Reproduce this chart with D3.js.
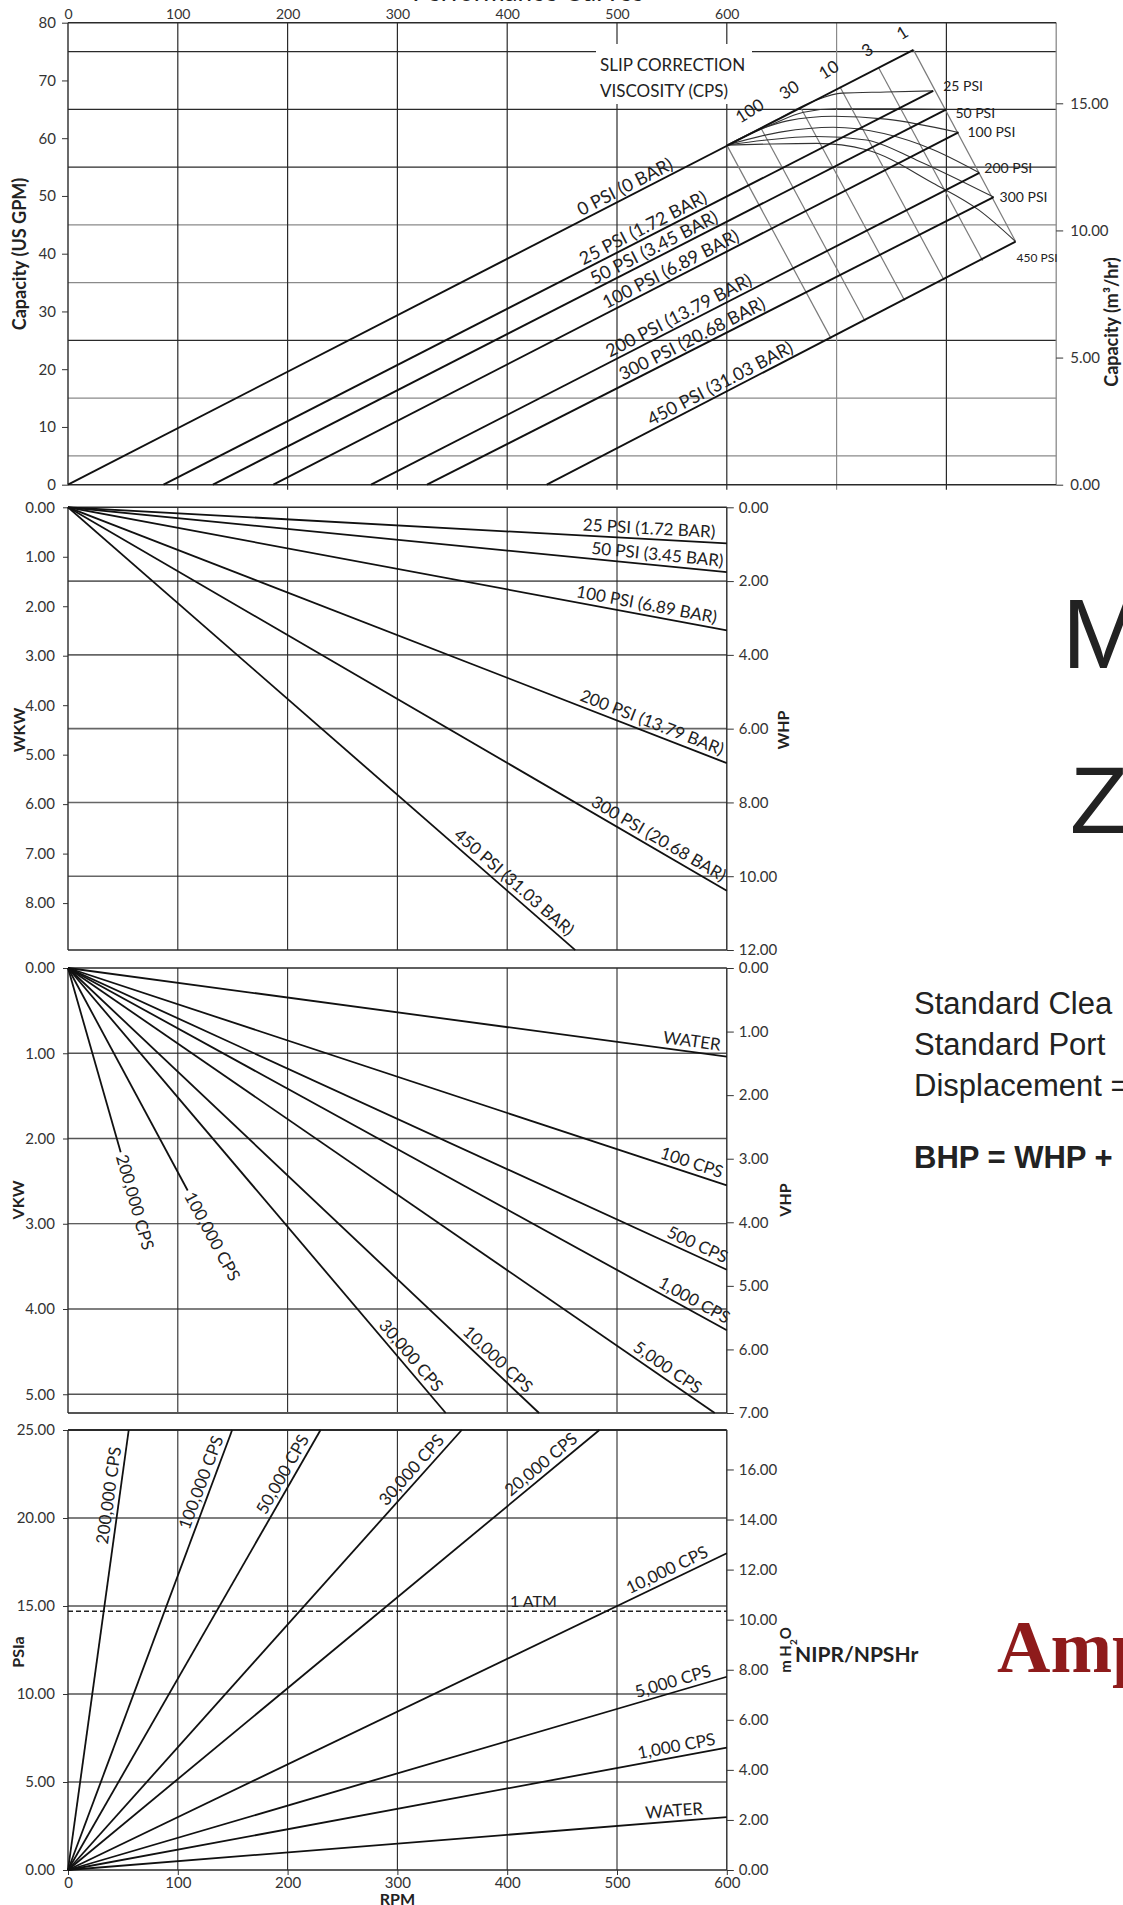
<!DOCTYPE html>
<html>
<head>
<meta charset="utf-8">
<script src="https://cdn.jsdelivr.net/npm/d3@7"></script>
<style>
  body { margin: 0; background: #fff; }
  svg { display: block; }
  text { font-family: Lato, "Open Sans", sans-serif; fill: #222; }
  .tick text { font-size: 15px; fill: #333; }
  .tick line, .domain { stroke: #333; }
</style>
</head>
<body>
<svg id="chart" width="1123" height="1905"></svg>
<script>
// ---- data ----
const rpmTicks = [0, 100, 200, 300, 400, 500, 600];

// capacity panel: pressure lines (RPM at 0 GPM, end point on the slip boundary)
const capNames = ["0 PSI (0 BAR)", "25 PSI (1.72 BAR)", "50 PSI (3.45 BAR)", "100 PSI (6.89 BAR)",
  "200 PSI (13.79 BAR)", "300 PSI (20.68 BAR)", "450 PSI (31.03 BAR)"];
const capStart = [0, 87, 132, 187, 276, 327, 436];
const capEnd = [[770, 75.3], [788, 68.2], [800, 65.0], [811, 61.0], [830, 54.0], [843, 49.8], [863, 42.1]];
const capLabelRpm = [469, 471, 481, 492, 495, 507, 533];
const endNames = ["25 PSI", "50 PSI", "100 PSI", "200 PSI", "300 PSI", "450 PSI"];

// slip correction lines: [rpm, gpm] on 0 PSI line -> [rpm, gpm] on 450 PSI line
const slipLines = [
  [[600, 58.8], [695, 25.3]],
  [[631, 61.8], [726, 28.3]],
  [[667, 65.4], [762, 31.9]],
  [[703, 68.9], [798, 35.4]],
  [[738, 72.3], [833, 38.8]],
  [[770, 75.3], [863, 42.1]]
];
const viscNames = ["100", "30", "10", "3", "1"];

// slip corrected curves, one per pressure
const slipCurves = [
  [[600, 58.8], [645, 63.2], [680, 66.5], [705, 67.8], [745, 68.0], [788, 68.2]],
  [[600, 58.8], [640, 62.3], [670, 64.5], [700, 65.1], [750, 65.1], [800, 65.0]],
  [[600, 58.8], [630, 61.5], [655, 63.0], [697, 63.8], [745, 63.3], [811, 61.0]],
  [[600, 58.8], [650, 61.1], [697, 61.9], [743, 60.8], [788, 58.0], [830, 54.0]],
  [[600, 58.8], [636, 59.7], [682, 60.3], [727, 59.7], [773, 56.2], [843, 49.8]],
  [[600, 58.8], [640, 59.0], [682, 59.1], [727, 58.0], [788, 52.2], [830, 47.5], [863, 42.1]]
];

// WKW panel: lines from origin to [rpm, kW]
const wkwNames = ["25 PSI (1.72 BAR)", "50 PSI (3.45 BAR)", "100 PSI (6.89 BAR)",
  "200 PSI (13.79 BAR)", "300 PSI (20.68 BAR)", "450 PSI (31.03 BAR)"];
const wkwEnd = [[600, 0.73], [600, 1.31], [600, 2.49], [600, 5.17], [600, 7.75], [462, 8.95]];
const wkwLabelRpm = [589, 596, 589, 593, 593, 452];

// VKW panel
const vkwNames = ["WATER", "100 CPS", "500 CPS", "1,000 CPS", "5,000 CPS", "10,000 CPS",
  "30,000 CPS", "100,000 CPS", "200,000 CPS"];
const vkwEnd = [[600, 1.04], [600, 2.55], [600, 3.54], [600, 4.25], [589, 5.22], [429, 5.22],
  [344, 5.22], [109, 2.61], [48, 2.16]];
const vkwLabelRpm = [593, 593, 596, 597, 570, 414, 331, 109, 48];

// NIPR panel
const niprNames = ["WATER", "1,000 CPS", "5,000 CPS", "10,000 CPS", "20,000 CPS",
  "30,000 CPS", "50,000 CPS", "100,000 CPS", "200,000 CPS"];
const niprEnd = [[600, 3.0], [600, 6.95], [600, 10.98], [600, 18.0], [484, 25], [358.6, 25],
  [230, 25], [149.5, 25], [55.3, 25]];
const niprLabelRpm = [579, 591, 588, 586, 468, 347, 224, 146, 53];
const atmPsi = 14.7;

// ---- drawing ----
const svg = d3.select("#chart");
const x = d3.scaleLinear().domain([0, 900]).range([68, 1056.2]);
const x600 = x(600);

const yCap = d3.scaleLinear().domain([0, 80]).range([484.7, 22.7]);
const yM3 = d3.scaleLinear().domain([0, 80 / 4.40287]).range([484.7, 22.7]);
const yWkw = d3.scaleLinear().domain([0, 12 * 0.7457]).range([507.3, 950]);
const yWhp = d3.scaleLinear().domain([0, 12]).range([507.3, 950]);
const yVkw = d3.scaleLinear().domain([0, 7 * 0.7457]).range([968, 1413]);
const yVhp = d3.scaleLinear().domain([0, 7]).range([968, 1413]);
const yPsi = d3.scaleLinear().domain([0, 25]).range([1870, 1430]);
const yMh2o = d3.scaleLinear().domain([0, 25 * 0.70307]).range([1870, 1430]);

const dark = "#2a2a2a", grey = "#8a8a8a";

function hline(g, y, x0, x1, color, w) {
  g.append("line").attr("x1", x0).attr("x2", x1).attr("y1", y).attr("y2", y)
    .attr("stroke", color).attr("stroke-width", w);
}
function vline(g, xv, y0, y1, color, w) {
  g.append("line").attr("x1", xv).attr("x2", xv).attr("y1", y0).attr("y2", y1)
    .attr("stroke", color).attr("stroke-width", w);
}
function seg(g, ys, p0, p1, w, color) {
  g.append("path").datum([p0, p1])
    .attr("d", d3.line().x(d => x(d[0])).y(d => ys(d[1])))
    .attr("fill", "none").attr("stroke", color || "#111").attr("stroke-width", w || 1.8);
}
// label sitting on a straight line, at the point of that line with the given rpm
function lineLabel(g, ys, p0, p1, rpm, txt, anchor, dy, size, dx) {
  const x0 = x(p0[0]), y0 = ys(p0[1]), x1 = x(p1[0]), y1 = ys(p1[1]);
  const a = Math.atan2(y1 - y0, x1 - x0) * 180 / Math.PI;
  const t = (rpm - p0[0]) / (p1[0] - p0[0]);
  const px = x0 + (x1 - x0) * t, py = y0 + (y1 - y0) * t;
  g.append("text").attr("transform", `translate(${px},${py}) rotate(${a})`)
    .attr("text-anchor", anchor).attr("dy", dy).attr("dx", dx || 0)
    .style("font-size", (size || 17) + "px").text(txt);
}
function fmt2(d) { return d3.format(".2f")(d); }
function styleAxis(g) {
  g.select(".domain").remove();
  g.selectAll(".tick line").attr("stroke", "#444");
}
function axisTitle(g, tx, ty, txt, size) {
  return g.append("text").attr("transform", `translate(${tx},${ty}) rotate(-90)`).attr("text-anchor", "middle")
    .style("font-size", (size || 16) + "px").style("font-weight", "bold").text(txt);
}

// ===== panel 1 : capacity =====
const p1 = svg.append("g");
const capGrid = [[75, dark], [65, dark], [55, dark], [45, grey], [35, grey], [25, dark], [15, grey], [5, grey]];
capGrid.forEach(([v, c]) => hline(p1, yCap(v), x(0), x(900), c, 1.3));
[100, 200, 300, 400, 500, 600, 800].forEach(r => vline(p1, x(r), yCap(80), yCap(0) + 5, dark, 1.2));
[700].forEach(r => vline(p1, x(r), yCap(80), yCap(0) + 5, grey, 1.2));
vline(p1, x(900), yCap(80), yCap(0), grey, 1.3);
hline(p1, yCap(80), x(0), x(900), dark, 1.6);
hline(p1, yCap(0), x(0), x(900), dark, 1.6);
vline(p1, x(0), yCap(80), yCap(0), dark, 1.4);

// white box behind the slip correction caption
p1.append("rect").attr("x", 596).attr("y", 44).attr("width", 156).attr("height", 60).attr("fill", "#fff");
p1.append("text").attr("x", 600).attr("y", 71).style("font-size", "17px").text("SLIP CORRECTION");
p1.append("text").attr("x", 600).attr("y", 97).style("font-size", "17px").text("VISCOSITY (CPS)");

p1.append("g").attr("transform", `translate(0,${yCap(80)})`)
  .call(d3.axisTop(x).tickValues(rpmTicks).tickSize(0).tickPadding(4)).call(styleAxis)
  .selectAll("text").style("font-size", "14px");
p1.append("g").attr("transform", `translate(${x(0)},0)`)
  .call(d3.axisLeft(yCap).tickValues(d3.range(0, 81, 10)).tickSize(6).tickPadding(6)).call(styleAxis);
p1.append("g").attr("transform", `translate(${x(900)},0)`)
  .call(d3.axisRight(yM3).tickValues([0, 5, 10, 15]).tickFormat(fmt2).tickSize(7).tickPadding(7)).call(styleAxis);

slipLines.forEach(l => seg(p1, yCap, l[0], l[1], 1.2, "#7a7a7a"));
p1.selectAll("path.slip").data(slipCurves).join("path").attr("class", "slip")
  .attr("d", d3.line().x(d => x(d[0])).y(d => yCap(d[1])).curve(d3.curveMonotoneX))
  .attr("fill", "none").attr("stroke", "#333").attr("stroke-width", 1.1);
capNames.forEach((n, i) => {
  seg(p1, yCap, [capStart[i], 0], capEnd[i], 1.9);
  lineLabel(p1, yCap, [capStart[i], 0], capEnd[i], capLabelRpm[i], n, "start", -4, 18);
});
viscNames.forEach((n, i) => {
  const s = slipLines[i + 1][0];
  p1.append("text").attr("transform", `translate(${x(s[0]) - 8},${yCap(s[1]) - 12}) rotate(-32)`)
    .attr("text-anchor", "middle").style("font-size", "17px").text(n);
});
const endOff = [[10, 0], [9, 9], [9, 5], [5, 0], [6, 5], [1, 20]];
endNames.forEach((n, i) => {
  const e = capEnd[i + 1];
  p1.append("text").attr("x", x(e[0]) + endOff[i][0]).attr("y", yCap(e[1]) + endOff[i][1])
    .style("font-size", i === 5 ? "12px" : "14px").text(n);
});

// title (cut by the top edge)
svg.append("text").attr("x", 528).attr("y", 1).attr("text-anchor", "middle")
  .style("font-size", "26px").text("Performance Curves");

axisTitle(p1, 26, 254, "Capacity (US GPM)", 18);
axisTitle(p1, 1118, 322, "Capacity (m³/hr)", 18);

// ===== panel 2 : WKW / WHP =====
const p2 = svg.append("g");
[2, 4, 6, 8, 10].forEach(v => hline(p2, yWhp(v), x(0), x600, "#666", 1.6));
[100, 200, 300, 400, 500].forEach(r => vline(p2, x(r), yWhp(0), yWhp(12), dark, 1.1));
hline(p2, yWhp(0), x(0), x600, dark, 1.6);
hline(p2, yWhp(12), x(0), x600, dark, 1.6);
vline(p2, x(0), yWhp(0), yWhp(12), dark, 1.4);
vline(p2, x600, yWhp(0), yWhp(12), dark, 1.4);
p2.append("g").attr("transform", `translate(${x(0)},0)`)
  .call(d3.axisLeft(yWkw).tickValues(d3.range(0, 9)).tickFormat(fmt2).tickSize(5).tickPadding(8)).call(styleAxis);
p2.append("g").attr("transform", `translate(${x600},0)`)
  .call(d3.axisRight(yWhp).tickValues(d3.range(0, 13, 2)).tickFormat(fmt2).tickSize(7).tickPadding(5)).call(styleAxis);
wkwNames.forEach((n, i) => {
  seg(p2, yWkw, [0, 0], wkwEnd[i], 1.8);
  lineLabel(p2, yWkw, [0, 0], wkwEnd[i], wkwLabelRpm[i], n, "end", -5, 17);
});
axisTitle(p2, 25, 730, "WKW");
axisTitle(p2, 789, 730, "WHP");

// ===== panel 3 : VKW / VHP =====
const p3 = svg.append("g");
[1, 2, 3, 4, 5].forEach(v => hline(p3, yVkw(v), x(0), x600, v === 3 ? dark : "#555", v === 3 ? 1.1 : 1.6));
[100, 200, 300, 400, 500].forEach(r => vline(p3, x(r), yVhp(0), yVhp(7), dark, 1.1));
hline(p3, yVhp(0), x(0), x600, dark, 1.6);
hline(p3, yVhp(7), x(0), x600, "#555", 2.2);
vline(p3, x(0), yVhp(0), yVhp(7), dark, 1.4);
vline(p3, x600, yVhp(0), yVhp(7), dark, 1.4);
p3.append("g").attr("transform", `translate(${x(0)},0)`)
  .call(d3.axisLeft(yVkw).tickValues(d3.range(0, 6)).tickFormat(fmt2).tickSize(5).tickPadding(8)).call(styleAxis);
p3.append("g").attr("transform", `translate(${x600},0)`)
  .call(d3.axisRight(yVhp).tickValues(d3.range(0, 8)).tickFormat(fmt2).tickSize(7).tickPadding(5)).call(styleAxis);
vkwNames.forEach((n, i) => {
  seg(p3, yVkw, [0, 0], vkwEnd[i], 1.8);
  if (i >= 7) lineLabel(p3, yVkw, [0, 0], vkwEnd[i], vkwLabelRpm[i], n, "start", "0.35em", 17, 3);
  else lineLabel(p3, yVkw, [0, 0], vkwEnd[i], vkwLabelRpm[i], n, "end", -5, 17);
});
axisTitle(p3, 24, 1200, "VKW");
axisTitle(p3, 791, 1200, "VHP");

// ===== panel 4 : NIPR / NPSHr =====
const p4 = svg.append("g");
[5, 10, 15, 20].forEach(v => hline(p4, yPsi(v), x(0), x600, "#555", 1.6));
[100, 200, 300, 400, 500].forEach(r => vline(p4, x(r), yPsi(25), yPsi(0), dark, 1.1));
hline(p4, yPsi(25), x(0), x600, dark, 1.8);
hline(p4, yPsi(0), x(0), x600, dark, 1.6);
vline(p4, x(0), yPsi(25), yPsi(0), dark, 1.4);
vline(p4, x600, yPsi(25), yPsi(0), dark, 1.4);
p4.append("line").attr("x1", x(0)).attr("x2", x600).attr("y1", yPsi(atmPsi)).attr("y2", yPsi(atmPsi))
  .attr("stroke", "#222").attr("stroke-width", 1.6).attr("stroke-dasharray", "5,3");
p4.append("text").attr("x", 510).attr("y", yPsi(atmPsi) - 4).style("font-size", "16px").text("1 ATM");
p4.append("g").attr("transform", `translate(${x(0)},0)`)
  .call(d3.axisLeft(yPsi).tickValues(d3.range(0, 26, 5)).tickFormat(fmt2).tickSize(5).tickPadding(8)).call(styleAxis);
p4.append("g").attr("transform", `translate(${x600},0)`)
  .call(d3.axisRight(yMh2o).tickValues(d3.range(0, 17, 2)).tickFormat(fmt2).tickSize(7).tickPadding(5)).call(styleAxis);
p4.append("g").attr("transform", `translate(0,${yPsi(0)})`)
  .call(d3.axisBottom(x).tickValues(rpmTicks).tickSize(5).tickPadding(2)).call(styleAxis);
niprNames.forEach((n, i) => {
  seg(p4, yPsi, [0, 0], niprEnd[i], 1.8);
  lineLabel(p4, yPsi, [0, 0], niprEnd[i], niprLabelRpm[i], n, "end", -5, 17);
});
p4.append("text").attr("x", x(300)).attr("y", 1905).attr("text-anchor", "middle")
  .style("font-size", "16px").style("font-weight", "bold").text("RPM");
axisTitle(p4, 24, 1652, "PSIa");
const mh = p4.append("text").attr("transform", `translate(791,1650) rotate(-90)`).attr("text-anchor", "middle")
  .style("font-size", "15px").style("font-weight", "bold");
mh.append("tspan").text("m H");
mh.append("tspan").attr("baseline-shift", "sub").style("font-size", "10px").text("2");
mh.append("tspan").text("O");
p4.append("text").attr("x", 795).attr("y", 1662).style("font-size", "21px").style("font-weight", "bold")
  .text("NIPR/NPSHr");

// ===== side texts (cut by the right edge) =====
const side = svg.append("g");
const sans = "'Liberation Sans', Arial, sans-serif";
side.append("text").attr("x", 1062).attr("y", 668).style("font-size", "99px").style("font-family", sans).text("M");
side.append("text").attr("x", 1070).attr("y", 833).style("font-size", "95px").style("font-family", sans).text("Z");
["Standard Clea", "Standard Port", "Displacement ="].forEach((t, i) => {
  side.append("text").attr("x", 914).attr("y", 1014 + i * 41).style("font-size", "31px")
    .style("font-family", sans).text(t);
});
side.append("text").attr("x", 914).attr("y", 1168).style("font-size", "31px").style("font-weight", "bold")
  .style("font-family", sans).text("BHP = WHP +");
side.append("text").attr("x", 997).attr("y", 1672).style("font-size", "74px").style("font-weight", "bold")
  .style("font-family", "'Liberation Serif', 'Times New Roman', serif").style("fill", "#8e1b1b").text("Amp");
</script>
</body>
</html>
